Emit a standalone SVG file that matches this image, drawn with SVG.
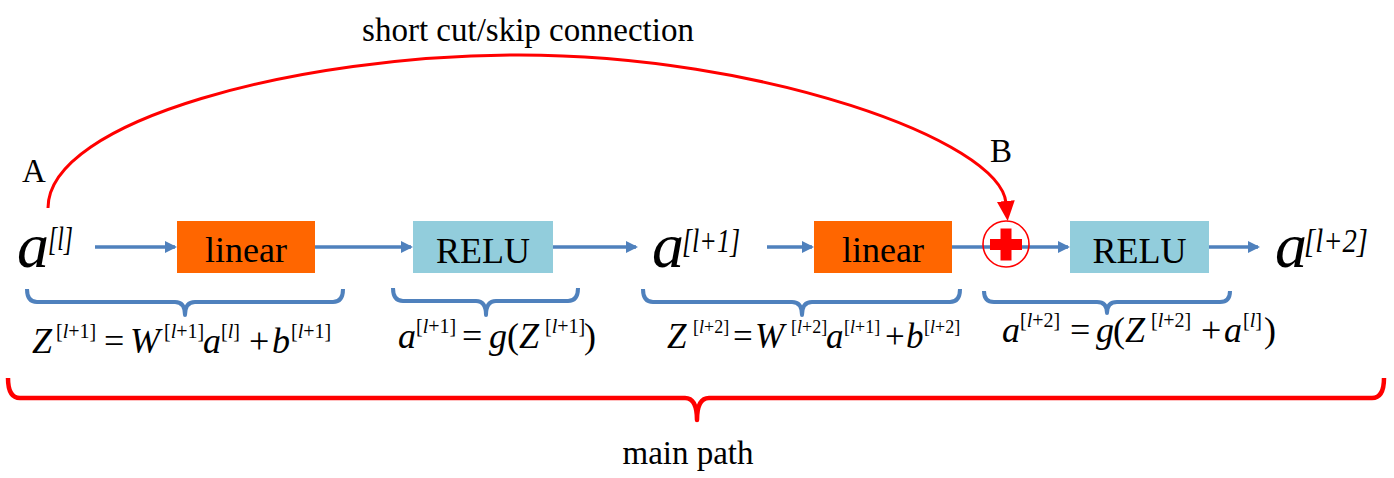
<svg xmlns="http://www.w3.org/2000/svg" width="1394" height="478" viewBox="0 0 1394 478" font-family="'Liberation Serif', 'Times New Roman', serif">
<style>
text{font-family:'Liberation Serif','Times New Roman',serif;fill:#000}
.it{font-style:italic}
.m{font-size:36px}
.s{font-size:20px}
.s18{font-size:18px}
.big{font-size:64px;font-style:italic}
.bsup{font-size:34px;font-style:italic}
.lbl{font-size:33px}
.box{font-size:36px}
.lin{fill:#FF6600}
.relu{fill:#92CDDC}
.blue{fill:none;stroke:#4F81BD;stroke-width:3.5}
.brace{fill:none;stroke:#4F81BD;stroke-width:4;stroke-linejoin:round}
.red{fill:none;stroke:#FF0000;stroke-width:3}
</style>
<defs>
<marker id="ab" markerUnits="userSpaceOnUse" markerWidth="12" markerHeight="12" refX="10" refY="6" orient="auto">
<path d="M0,0 L12,6 L0,12 z" fill="#4F81BD"/>
</marker>
<marker id="ar" markerUnits="userSpaceOnUse" markerWidth="20" markerHeight="18" refX="2" refY="9" orient="auto">
<path d="M0,0 L20,9 L0,18 z" fill="#FF0000"/>
</marker>
</defs>
<rect width="1394" height="478" fill="#fff"/>

<g id="connectors">
<path class="blue" d="M95,247 L175,247" marker-end="url(#ab)"/>
<path class="blue" d="M315,247 L411,247" marker-end="url(#ab)"/>
<path class="blue" d="M553,247 L636,247" marker-end="url(#ab)"/>
<path class="blue" d="M767,247 L812,247" marker-end="url(#ab)"/>
<path class="blue" d="M952,247 L1068,247" marker-end="url(#ab)"/>
<path class="blue" d="M1209,247 L1258,247" marker-end="url(#ab)"/>
<path class="red" d="M48,208 C48,120 300,55 519,55 C760,55 1000,140 1006,203" marker-end="url(#ar)"/>
</g>

<g id="a_l">
<text><tspan class="big" x="17" y="267">a</tspan><tspan class="bsup" x="48" y="250" textLength="25" lengthAdjust="spacingAndGlyphs">[l]</tspan></text>
</g>
<g id="linear1">
<rect class="lin" x="177" y="221" width="138" height="52"/>
<text class="box" x="246" y="262" text-anchor="middle">linear</text>
</g>
<g id="relu1">
<rect class="relu" x="413" y="221" width="140" height="52"/>
<text class="box" x="483" y="263" text-anchor="middle">RELU</text>
</g>
<g id="a_l1">
<text><tspan class="big" x="652" y="267">a</tspan><tspan class="bsup" x="682" y="252" textLength="58" lengthAdjust="spacingAndGlyphs">[l+1]</tspan></text>
</g>
<g id="linear2">
<rect class="lin" x="814" y="221" width="138" height="52"/>
<text class="box" x="883" y="262" text-anchor="middle">linear</text>
</g>
<g id="add">
<circle cx="1006" cy="244" r="23" fill="none" stroke="#FF0000" stroke-width="1.6"/>
<rect x="990" y="239" width="32" height="11" fill="#FF0000"/>
<rect x="1000.5" y="228.5" width="11" height="32" fill="#FF0000"/>
</g>
<g id="relu2">
<rect class="relu" x="1070" y="221" width="139" height="52"/>
<text class="box" x="1139.5" y="263" text-anchor="middle">RELU</text>
</g>
<g id="a_l2">
<text><tspan class="big" x="1275" y="267">a</tspan><tspan class="bsup" x="1304" y="252" textLength="64" lengthAdjust="spacingAndGlyphs">[l+2]</tspan></text>
</g>

<g id="labelA"><text class="lbl" x="22" y="182">A</text></g>
<g id="labelB"><text class="lbl" x="990" y="162">B</text></g>
<g id="skipLabel"><text style="font-size:33px" x="528" y="41" text-anchor="middle">short cut/skip connection</text></g>

<g id="braces">
<path class="brace" d="M27,289 Q27,302 37,302 L175,302 Q185,302 185,315 Q185,302 195,302 L333,302 Q343,302 343,289"/>
<path class="brace" d="M393,288 Q393,301 403,301 L476,301 Q486,301 486,315 Q486,301 496,301 L568,301 Q578,301 578,288"/>
<path class="brace" d="M643,289 Q643,302 653,302 L792,302 Q802,302 802,315 Q802,302 812,302 L950,302 Q960,302 960,289"/>
<path class="brace" d="M984,291 Q984,302 994,302 L1097,302 Q1107,302 1107,313 Q1107,302 1117,302 L1220,302 Q1230,302 1230,291"/>
</g>

<g id="eq1">
<text class="m"><tspan class="it" x="32" y="353">Z</tspan><tspan class="s" x="56" y="338">[<tspan class="it">l</tspan>+1]</tspan><tspan x="104" y="353">=</tspan><tspan class="it" x="130" y="353">W</tspan><tspan class="s" x="164" y="338">[<tspan class="it">l</tspan>+1]</tspan><tspan class="it" x="203" y="353">a</tspan><tspan class="s" x="221" y="338">[<tspan class="it">l</tspan>]</tspan><tspan x="249" y="353">+</tspan><tspan class="it" x="272" y="353">b</tspan><tspan class="s" x="291" y="338">[<tspan class="it">l</tspan>+1]</tspan></text>
</g>
<g id="eq2">
<text class="m"><tspan class="it" x="398" y="348">a</tspan><tspan class="s" x="416" y="333">[<tspan class="it">l</tspan>+1]</tspan><tspan x="462" y="348">=</tspan><tspan class="it" x="489" y="348">g</tspan><tspan x="507" y="348">(</tspan><tspan class="it" x="519" y="348">Z</tspan><tspan class="s" x="545" y="333">[<tspan class="it">l</tspan>+1]</tspan><tspan x="584" y="348">)</tspan></text>
</g>
<g id="eq3">
<text style="font-size:35px"><tspan class="it" x="667" y="348">Z</tspan><tspan class="s18" x="693" y="333">[<tspan class="it">l</tspan>+2]</tspan><tspan x="733" y="348">=</tspan><tspan class="it" x="755" y="348">W</tspan><tspan class="s18" x="791" y="333">[<tspan class="it">l</tspan>+2]</tspan><tspan class="it" x="826" y="348">a</tspan><tspan class="s18" x="844" y="333">[<tspan class="it">l</tspan>+1]</tspan><tspan x="885" y="348">+</tspan><tspan class="it" x="906" y="348">b</tspan><tspan class="s18" x="924" y="333">[<tspan class="it">l</tspan>+2]</tspan></text>
</g>
<g id="eq4">
<text class="m"><tspan class="it" x="1002" y="342">a</tspan><tspan class="s" x="1020" y="327">[<tspan class="it">l</tspan>+2]</tspan><tspan x="1070" y="342">=</tspan><tspan class="it" x="1096" y="342">g</tspan><tspan x="1113" y="342">(</tspan><tspan class="it" x="1125" y="342">Z</tspan><tspan class="s" x="1151" y="327">[<tspan class="it">l</tspan>+2]</tspan><tspan x="1201" y="342">+</tspan><tspan class="it" x="1224" y="342">a</tspan><tspan class="s" x="1243" y="327">[<tspan class="it">l</tspan>]</tspan><tspan x="1264" y="342">)</tspan></text>
</g>

<g id="mainBrace">
<path fill="none" stroke="#FF0000" stroke-width="4.5" stroke-linejoin="round" d="M8,378 Q8,398 20,398 L685,398 Q697,398 697,420 Q697,398 709,398 L1372,398 Q1384,398 1384,378"/>
</g>
<g id="mainLabel"><text style="font-size:33px" x="688" y="464" text-anchor="middle">main path</text></g>
</svg>
